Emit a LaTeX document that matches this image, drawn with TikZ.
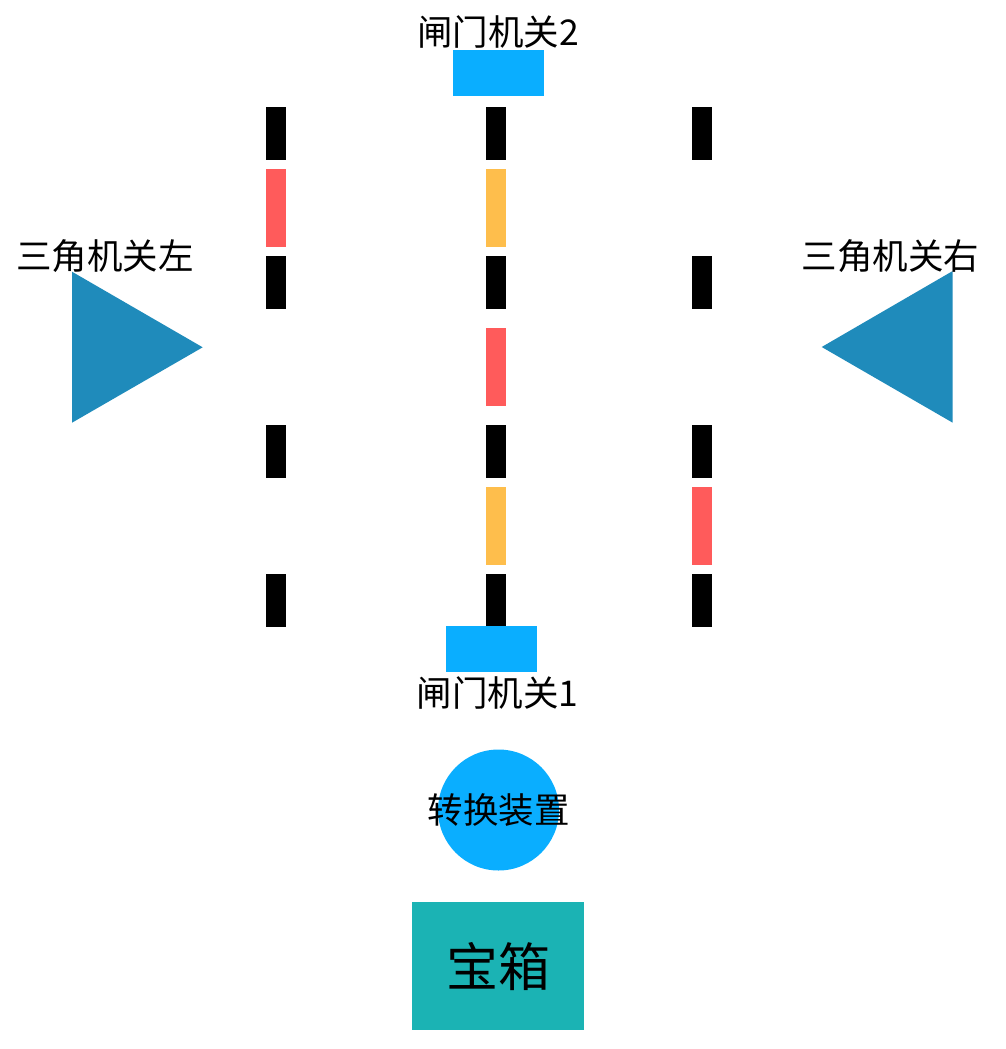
\documentclass[tikz,border=0pt]{standalone}
\usepackage{fontspec}
\setmainfont{Noto Sans CJK SC}
\usetikzlibrary{positioning}
\definecolor{gateblue}{HTML}{0AAEFF}
\definecolor{triblue}{HTML}{1F8BBB}
\definecolor{chestteal}{HTML}{1BB3B4}
\definecolor{barred}{HTML}{FF5B5B}
\definecolor{barorange}{HTML}{FEBE4C}
\tikzset{
  bar/.style={minimum width=20pt,inner sep=0pt,outer sep=0pt},
  blackbar/.style={bar,fill=black,minimum height=53pt},
  redbar/.style={bar,fill=barred,minimum height=78pt},
  orangebar/.style={bar,fill=barorange,minimum height=78pt},
  gate/.style={fill=gateblue,minimum width=91pt,minimum height=46pt,inner sep=0pt},
  lbl/.style={inner sep=0pt,font=\fontsize{35.5}{42}\selectfont},
}
\begin{document}
\begin{tikzpicture}[x=1pt,y=-1pt]
    \useasboundingbox (0,0) rectangle (1005,1049);
    % bars
    \foreach \k/\c in {1/275.5,2/495.7,3/701.7}{
        \foreach \i/\y in {1/133.5,2/282.5,3/451.5,4/600.5}
            \node[blackbar] (b\k\i) at (\c,\y) {};
    }
    \node[redbar] (r1) at (275.5,208) {};
    \node[orangebar] (o1) at (495.7,208) {};
    \node[redbar] (r2) at (495.7,367) {};
    \node[orangebar] (o2) at (495.7,526) {};
    \node[redbar] (r3) at (701.7,526) {};
    % gates
    \node[gate] (gate2) at (498,73.3) {};
    \node[lbl] (tgate2) at (498,32) {闸门机关2};
    \node[gate] (gate1) at (491.7,648.8) {};
    \node[lbl] (tgate1) at (497.5,693) {闸门机关1};
    % triangles
    \fill[triblue] (72,271.7) -- (72,422.7) -- (202.7,347.3) -- cycle;
    \node[lbl] (tleft) at (105,256) {三角机关左};
    \fill[triblue] (952.7,271) -- (952.7,422.7) -- (821.7,347) -- cycle;
    \node[lbl] (tright) at (890.5,256) {三角机关右};
    % converter and chest
    \node[circle,fill=gateblue,minimum size=121pt,inner sep=0pt] (conv) at (498.5,810) {};
    \node[lbl] (tconv) at (conv) {转换装置};
    \node[fill=chestteal,minimum width=172pt,minimum height=128pt,inner sep=0pt,
          font=\fontsize{52}{60}\selectfont] (chest) at (498,966.3) {宝箱};
\end{tikzpicture}
\end{document}
